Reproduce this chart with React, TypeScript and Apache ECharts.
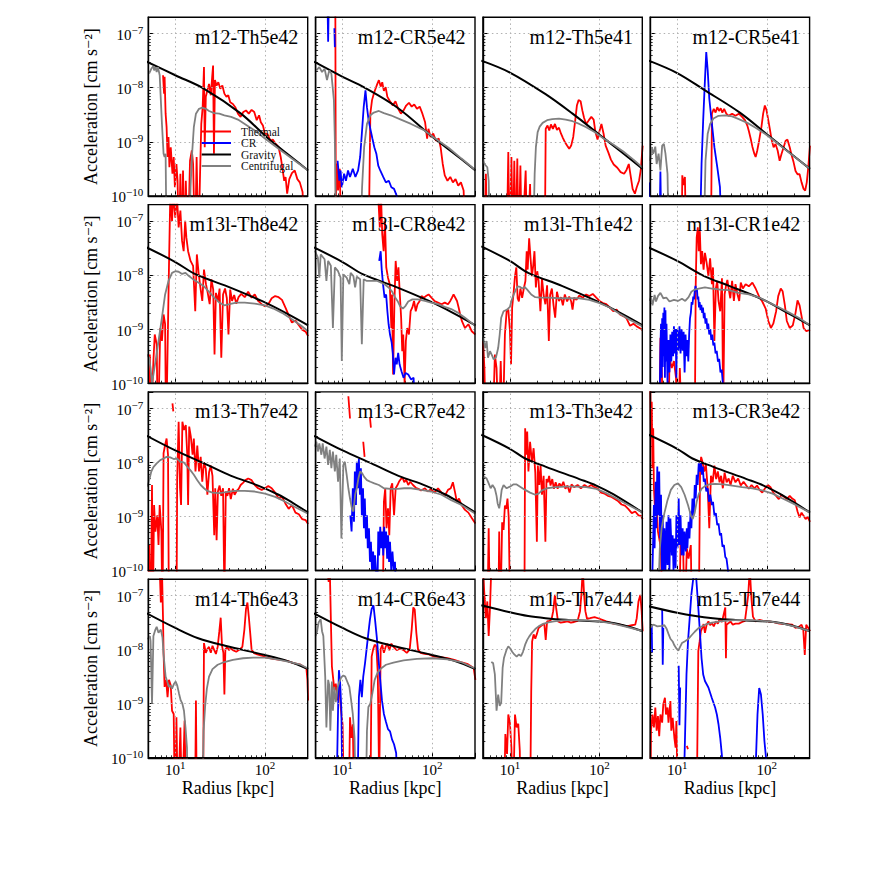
import { useEffect, useRef } from 'react';
import * as echarts from 'echarts';

// Each curve: [radius in kpc, log10(acceleration / cm s^-2)]; null = gap in the curve.
type P = [number, number] | null;
const N = null;

const titles = ['m12-Th5e42', 'm12-CR5e42', 'm12-Th5e41', 'm12-CR5e41', 'm13l-Th8e42', 'm13l-CR8e42', 'm13l-Th1e42', 'm13l-CR1e42', 'm13-Th7e42', 'm13-CR7e42', 'm13-Th3e42', 'm13-CR3e42', 'm14-Th6e43', 'm14-CR6e43', 'm15-Th7e44', 'm15-Th7e44'];
const seriesNames = ['Thermal', 'CR', 'Gravity', 'Centrifugal'];
const seriesColors = ['#ff0000', '#0000ff', '#000000', '#808080'];
const xRange = [5, 300];
const yRange = [1e-10, 2e-7];
const xGridValues = [10, 100];
const yGridValues = [1e-9, 1e-8, 1e-7];

// ---------- Panel 1: m12-Th5e42 ----------
const th1: P[] = [[7.3,-7.77],[7.5,-8.11],[7.6,-7.8],[7.8,-8.48],[8.0,-8.73],[8.2,-9.28],[8.4,-8.91],[8.6,-9.47],[8.9,-9.1],[9.3,-9.59],[9.6,-9.28],[9.9,-9.84],[10.3,-9.41],[10.6,-9.72],[11,-11],[11.4,-9.59],[11.8,-11],[12.2,-9.53],[12.6,-11],[13.1,-9.72],[13.8,-11],[14.6,-9.35],[15.3,-9.16],[15.8,-9.41],[16.6,-11],[17.3,-9.28],[18.1,-11],[18.9,-9.59],[19.5,-8.67],[20.2,-8.36],[20.9,-7.62],[21.3,-9.1],[21.9,-8.17],[22.8,-8.05],[23.8,-7.93],[24.9,-8.14],[25.8,-7.8],[26.4,-7.59],[27,-9.22],[27.7,-7.86],[28.9,-7.96],[30.2,-7.9],[31.8,-8.02],[33.5,-7.96],[35.3,-8.11],[37.2,-8.17],[39,-8.14],[41,-8.27],[43.9,-8.3],[46.7,-8.36],[50,-8.48],[53.5,-8.54],[57.4,-8.45],[61.5,-8.42],[66,-8.48],[71,-8.41],[76,-8.45],[81,-8.6],[86,-8.51],[90,-8.64],[95,-8.7],[100,-8.85],[107,-8.86],[115,-8.98],[123,-8.96],[132,-9.04],[142,-9.1],[150,-9.28],[158,-9.53],[164,-9.72],[170,-9.65],[177,-9.96],[187,-9.69],[200,-9.58],[215,-9.53],[230,-9.69],[245,-9.75],[263,-9.93],[280,-11]];
const cr1: P[] = [];
const gr1: P[] = [[4.8,-7.52],[10,-7.77],[21,-8.02],[54,-8.48],[109,-8.94],[200,-9.29],[303,-9.53]];
const ce1: P[] = [[5.1,-7.74],[5.4,-7.65],[5.7,-7.6],[5.8,-7.68],[6.0,-7.62],[6.2,-7.71],[6.4,-7.62],[6.7,-7.77],[6.9,-8.23],[7.1,-8.67],[7.4,-9.22],[7.6,-9.28],[7.8,-9.22],[8.0,-11],[14.2,-11],[14.8,-9.84],[15.4,-9.22],[16.1,-8.73],[17,-8.48],[18.4,-8.39],[20,-8.37],[21.9,-8.39],[23.8,-8.43],[27.2,-8.47],[31,-8.48],[35.3,-8.51],[42,-8.54],[50,-8.59],[59.5,-8.67],[77,-8.79],[100,-8.94],[142,-9.13],[200,-9.31],[303,-9.53]];

// ---------- Panel 2: m12-CR5e42 ----------
const th2: P[] = [[8.3,-6.5],[8.4,-10.2],[8.6,-9.4],[8.9,-9.9],[9.3,-9.5],[9.7,-11],N,[19.5,-11],[20.4,-8.48],[21.3,-8.23],[22.3,-8.11],[23.3,-8.02],[24.4,-7.93],[25.4,-7.86],[26.6,-7.98],[27.7,-7.9],[28.9,-8.06],[30.2,-7.99],[31.6,-8.17],[33.8,-8.25],[36.3,-8.33],[38.9,-8.25],[41.7,-8.39],[44.7,-8.48],[47.9,-8.42],[51.2,-8.33],[55,-8.28],[59,-8.35],[63,-8.31],[67.6,-8.39],[72.5,-8.35],[77.7,-8.48],[83.3,-8.64],[87.7,-8.94],[90.7,-8.76],[95.6,-8.91],[102.6,-8.85],[110,-8.98],[118,-8.94],[124,-9.1],[131,-9.41],[138,-9.62],[148,-9.72],[159,-9.65],[170,-9.75],[182,-9.69],[195,-9.81],[209,-9.75],[224,-9.9],[236,-11]];
const cr2: P[] = [[6.8,-6.5],[6.9,-7.15],[7.0,-6.5],N,[8.1,-6.9],[8.2,-7.25],N,[8.8,-9.35],[9.2,-9.72],[9.5,-9.53],[9.8,-9.84],[10.4,-9.59],[10.9,-9.72],[11.5,-9.53],[12.1,-9.65],[13,-9.5],[13.9,-9.65],[14.9,-9.53],[15.7,-9.28],[16.4,-8.85],[17.2,-8.36],[18,-8.05],[18.7,-8.36],[19.5,-8.6],[20.4,-8.76],[21.5,-8.94],[22.6,-9.1],[23.8,-9.22],[25,-9.44],[26.3,-9.53],[28.4,-9.65],[30.4,-9.75],[32.8,-9.72],[35,-9.84],[37.5,-9.87],[40.2,-10],[42.3,-11]];
const gr2: P[] = [[4.8,-7.52],[10,-7.8],[17.2,-7.99],[41,-8.37],[106,-8.94],[200,-9.29],[303,-9.53]];
const ce2: P[] = [[5.1,-7.68],[5.5,-7.62],[5.9,-7.71],[6.3,-7.65],[6.7,-7.86],[7.1,-7.68],[7.5,-7.74],[8.0,-8.23],[8.2,-8.98],[8.5,-11],[15.7,-11],[16.5,-9.84],[17.4,-9.1],[18.7,-8.67],[20.4,-8.51],[22.3,-8.46],[25.4,-8.43],[28.9,-8.47],[34.4,-8.51],[44.7,-8.59],[58,-8.67],[82,-8.79],[106,-8.93],[152,-9.11],[212,-9.31],[303,-9.52]];

// ---------- Panel 3: m12-Th5e41 ----------
const th3: P[] = [[5.2,-11],[5.4,-9.59],[5.6,-11],N,[9.2,-11],[9.6,-9.19],[9.9,-11],[10.4,-9.28],[10.8,-11],[11.2,-9.35],[11.6,-11],[12.1,-9.31],[12.5,-11],[13.1,-9.44],[13.6,-11],[15,-9.53],[15.6,-11],[16.8,-9.78],[17.4,-11],N,[24.5,-11],[25.1,-8.76],[26.3,-8.7],[27.5,-8.79],[28.7,-8.68],[30.2,-8.76],[31.8,-8.67],[33.5,-8.78],[35.3,-8.74],[37.2,-8.85],[39.1,-8.93],[41.2,-9.01],[43.4,-9.07],[45.9,-9.13],[48.3,-9.07],[50.9,-8.91],[53.6,-8.6],[55.9,-8.33],[58.4,-8.23],[61.5,-8.25],[64.3,-8.42],[67.3,-8.56],[71,-8.67],[76,-8.6],[81,-8.54],[86,-8.59],[90,-8.82],[95,-8.96],[100,-8.8],[105,-8.67],[111,-8.85],[117,-9.07],[125,-9.19],[134,-9.33],[144,-9.42],[158,-9.48],[172,-9.56],[188,-9.59],[200,-9.52],[212,-9.41],[222,-9.62],[234,-9.87],[248,-9.96],[260,-9.84],[276,-9.72],[288,-9.53],[298,-9.22],[303,-9.07]];
const cr3: P[] = [];
const gr3: P[] = [[4.8,-7.5],[10,-7.72],[25,-8.12],[50,-8.48],[100,-8.87],[170,-9.17],[303,-9.5]];
const ce3: P[] = [[4.85,-9.28],[5.2,-9.41],[5.6,-9.47],[5.8,-9.72],[6.0,-11],[18.1,-11],[18.9,-9.59],[19.5,-9.1],[20.4,-8.82],[21.5,-8.72],[23.2,-8.65],[26,-8.6],[29.7,-8.58],[35.3,-8.57],[42,-8.59],[50,-8.62],[59.5,-8.67],[71,-8.73],[88,-8.82],[109,-8.93],[142,-9.05],[184,-9.18],[239,-9.33],[303,-9.48]];

// ---------- Panel 4: m12-CR5e41 ----------
const th4: P[] = [[11.2,-11],[11.4,-9.62],[11.8,-9.8],[12.2,-9.65],[12.6,-11],N,[23.8,-11],[24.4,-8.48],[25.6,-8.39],[26.8,-8.46],[28,-8.36],[29.3,-8.43],[30.6,-8.38],[31.9,-8.46],[33.4,-8.39],[35.3,-8.48],[37.5,-8.52],[41,-8.48],[44.7,-8.52],[48.7,-8.48],[53,-8.54],[57,-8.6],[60.6,-8.7],[63,-8.8],[66,-8.94],[69,-9.09],[72.5,-9.22],[75,-9.28],[78,-9.17],[82,-8.98],[87,-8.73],[91,-8.48],[95,-8.33],[99,-8.41],[103.6,-8.59],[108,-8.76],[113,-8.96],[119,-9.1],[125,-9.04],[132,-9.16],[139,-9.35],[146,-9.22],[154,-9.1],[162,-8.98],[170,-8.96],[180,-9.1],[189,-9.25],[199,-9.38],[209,-9.54],[220,-9.6],[232,-9.6],[244,-9.75],[257,-9.87],[268,-9.9],[279,-9.75],[290,-9.47],[303,-9.07]];
const cr4: P[] = [[4.9,-9.75],[5.1,-11],N,[6.3,-11],[6.5,-9.55],[6.7,-11],N,[17.8,-11],[18.7,-9.41],[19.5,-8.6],[20.4,-7.86],[21.1,-7.34],[21.9,-7.68],[22.8,-8.2],[24.4,-8.67],[26,-9.1],[28,-9.47],[30,-9.84],[31.6,-11]];
const gr4: P[] = [[4.8,-7.5],[10,-7.73],[20,-8.04],[50,-8.46],[100,-8.86],[170,-9.17],[303,-9.5]];
const ce4: P[] = [[5.0,-9.35],[5.2,-9.1],[5.4,-9.22],[5.7,-9.09],[5.9,-9.41],[6.2,-9.22],[6.5,-9.53],[6.8,-9.07],[7.1,-9.04],[7.4,-9.22],[7.8,-9.59],[8.1,-11],[19.7,-11],[20.7,-9.35],[21.9,-8.85],[23.3,-8.67],[25.4,-8.57],[28.9,-8.52],[34.4,-8.51],[41,-8.53],[48.7,-8.58],[60.6,-8.65],[75,-8.74],[97,-8.86],[127,-9.01],[180,-9.21],[232,-9.35],[303,-9.5]];

// ---------- Panel 5: m13l-Th8e42 ----------
const th5: P[] = [[5.0,-11],[5.2,-9.47],[5.3,-11],[5.7,-9.59],[5.9,-9.1],[6.2,-9.28],[6.4,-11],[6.8,-8.98],[7.1,-9.22],[7.4,-8.73],[7.7,-8.91],[7.9,-11],[8.5,-7.86],[8.8,-6.5],[9.2,-7],[9.5,-6.5],[10,-6.94],[10.4,-6.5],[10.9,-7.12],[11.4,-6.81],[11.9,-7.37],[12.4,-7.56],[12.9,-7],[13.3,-7.31],[13.9,-7.56],[14.8,-7.74],[15.8,-7.83],[16.7,-8.67],[17.4,-7.62],[18.2,-7.96],[19.2,-8.27],[20,-8.48],[20.9,-7.9],[22,-8.17],[23,-8.33],[24.2,-8.54],[25.3,-8.08],[26.5,-8.27],[27.4,-9.47],[28.4,-8.33],[29.9,-8.48],[31.2,-8.25],[32.6,-9.53],[34.1,-8.36],[35.9,-8.25],[37.6,-8.43],[39.2,-9.1],[41,-8.27],[43,-8.48],[45.4,-8.37],[47.9,-8.53],[50.8,-8.41],[54.4,-8.35],[59.5,-8.41],[65,-8.31],[71,-8.42],[77,-8.36],[84,-8.48],[92,-8.54],[100,-8.58],[109,-8.54],[119,-8.43],[130,-8.39],[142,-8.41],[155,-8.46],[169,-8.6],[184,-8.74],[200,-8.88],[219,-8.84],[239,-8.93],[260,-9.01],[285,-9.05],[303,-9.13]];
const cr5: P[] = [];
const gr5: P[] = [[4.8,-7.49],[10,-7.76],[17,-7.99],[38,-8.21],[92,-8.48],[170,-8.7],[303,-8.93]];
const ce5: P[] = [[4.85,-9.47],[5.1,-9.53],[5.3,-9.72],[5.5,-10],[5.7,-9.84],[6.1,-9.53],[6.5,-9.22],[7.1,-8.79],[7.7,-8.36],[8.4,-8.11],[9.2,-7.96],[10,-7.93],[10.9,-7.94],[11.9,-7.98],[13,-7.96],[14.2,-8.02],[16.1,-8.09],[18.4,-8.15],[20.9,-8.21],[23.8,-8.31],[27.2,-8.42],[31,-8.51],[35.3,-8.56],[40.2,-8.54],[47.9,-8.51],[59.5,-8.51],[77,-8.53],[100,-8.56],[124,-8.62],[155,-8.7],[200,-8.82],[250,-8.93],[303,-9.04]];

// ---------- Panel 6: m13l-CR8e42 ----------
const th6: P[] = [[24.9,-6.5],[26,-7.12],[26.8,-6.5],[27.7,-7.25],[28.7,-7.56],[29.7,-7.0],[30.7,-7.86],[32.1,-8.05],[33.6,-8.17],[35,-8.98],[35.6,-8.36],[36.6,-9.84],[37.9,-8.48],[39.1,-7.74],[40.6,-8.11],[42,-7.86],[43.5,-8.36],[45,-8.79],[46.3,-9.41],[47.5,-9.1],[49.2,-10.0],[50.8,-9.22],[52.6,-8.98],[55,-9.1],[57.4,-8.67],[60,-8.6],[62.7,-8.48],[65.5,-8.67],[68.5,-8.54],[72.5,-8.48],[76,-8.39],[80.5,-8.42],[85,-8.39],[91,-8.36],[98,-8.42],[106,-8.48],[116,-8.51],[127,-8.54],[138,-8.51],[150,-8.54],[159,-8.48],[166,-8.42],[173,-8.36],[181,-8.42],[189,-8.48],[197,-8.6],[205,-8.73],[214,-8.85],[232,-8.98],[253,-8.91],[276,-9.04],[303,-9.1]];
const cr6: P[] = [[25.6,-7.74],[26.6,-7.56],[27.4,-7.93],[28.4,-8.2],[29.4,-8.42],[30.6,-8.36],[31.6,-8.67],[32.6,-8.91],[33.8,-9.1],[35.3,-9.25],[36.3,-9.44],[37.5,-9.84],[38.9,-9.53],[40.2,-9.65],[41.7,-9.44],[43.2,-9.65],[45.4,-9.78],[47.9,-9.9],[50.4,-9.81],[54,-9.84],[58,-9.93],[62,-9.9],[65.5,-11]];
const gr6: P[] = [[4.8,-7.49],[10,-7.76],[17,-7.99],[38,-8.21],[92,-8.48],[170,-8.7],[303,-8.93]];
const ce6: P[] = [[4.9,-7.55],[5.3,-7.68],[5.5,-8.05],[5.7,-7.62],[6.3,-7.71],[6.6,-8.11],[6.9,-7.74],[7.4,-7.83],[7.8,-8.98],[8.2,-7.86],[8.9,-7.93],[9.5,-8.05],[9.8,-9.59],[10.2,-7.99],[11.1,-8.05],[11.9,-8.17],[12.3,-7.96],[13.2,-8.02],[13.8,-8.23],[14.4,-8.03],[15.7,-8.08],[16.4,-9.28],[17.2,-8.08],[18.7,-8.11],[21.3,-8.11],[24.4,-8.11],[26.9,-8.14],[29.9,-8.18],[32.6,-8.23],[35.5,-8.3],[38.1,-8.4],[41,-8.48],[43.9,-8.58],[47.1,-8.62],[50.4,-8.57],[54,-8.49],[60,-8.45],[69,-8.45],[83,-8.48],[97,-8.51],[116,-8.54],[138,-8.59],[163,-8.63],[195,-8.7],[232,-8.79],[303,-8.94]];

// ---------- Panel 7: m13l-Th1e42 ----------
const th7: P[] = [[4.85,-11],[5.0,-9.22],[5.2,-9.72],[5.4,-11],N,[6.4,-11],[6.8,-9.47],[7.1,-9.72],[7.5,-11],[7.9,-9.59],[8.3,-11],[8.8,-9.1],[9.2,-8.67],[9.6,-8.64],[10,-9.01],[10.3,-9.65],[10.6,-8.6],[11,-8.33],[11.4,-8.02],[11.8,-7.86],[12.2,-8.43],[12.6,-8.49],[13.1,-8.25],[13.7,-8.42],[14.3,-8.25],[14.9,-8.11],[15.4,-7.56],[15.8,-7.9],[16.4,-7.32],[17,-7.69],[17.6,-8.02],[18.2,-7.83],[18.8,-7.56],[19.5,-8.23],[20.2,-7.93],[20.9,-8.11],[21.9,-8.67],[22.8,-8.06],[23.8,-8.37],[24.9,-8.54],[26,-8.19],[27.2,-9.22],[28.1,-8.37],[29.4,-8.25],[30.7,-8.56],[32,-8.79],[33.5,-8.31],[35.3,-8.48],[37.2,-8.41],[39,-8.56],[41,-8.36],[43.5,-8.49],[45.9,-8.4],[48.3,-8.49],[50,-8.64],[52,-8.42],[55.3,-8.46],[59.5,-8.38],[65,-8.42],[71,-8.36],[77,-8.39],[84,-8.35],[92,-8.42],[100,-8.48],[109,-8.52],[119,-8.54],[130,-8.6],[142,-8.67],[155,-8.64],[169,-8.73],[184,-8.76],[200,-8.8],[219,-8.94],[239,-8.9],[260,-8.95],[285,-8.99],[303,-9.02]];
const cr7: P[] = [];
const gr7: P[] = [[4.8,-7.47],[10,-7.74],[16,-7.96],[38,-8.2],[92,-8.48],[170,-8.7],[303,-8.93]];
const ce7: P[] = [[4.85,-9.22],[5.0,-9.16],[5.3,-9.35],[5.5,-9.22],[5.7,-9.53],[6.0,-9.41],[6.3,-9.48],[6.6,-9.56],[7.0,-9.52],[7.4,-9.35],[7.7,-9.1],[8.0,-8.79],[8.5,-8.67],[9.3,-8.64],[10,-8.59],[10.4,-8.48],[10.9,-8.38],[11.6,-8.28],[12.2,-8.21],[13,-8.22],[13.8,-8.25],[14.6,-8.22],[15.6,-8.27],[17.3,-8.36],[19.2,-8.41],[21.9,-8.42],[27.2,-8.42],[35.3,-8.43],[45.9,-8.43],[59.5,-8.43],[77,-8.46],[100,-8.52],[130,-8.6],[169,-8.72],[219,-8.83],[303,-8.95]];

// ---------- Panel 8: m13l-CR1e42 ----------
const th8: P[] = [[6.3,-11],[6.5,-9.16],[6.7,-9.59],[7.0,-11],N,[8.0,-11],[8.2,-9.53],[8.7,-9.72],[9.2,-9.59],[9.7,-9.9],[10.2,-11],[10.7,-9.72],[11.3,-11],N,[15.7,-11],[16.1,-8.17],[16.5,-7.31],[17,-7.12],[17.4,-7.56],[17.9,-7.19],[18.4,-7.8],[19,-7.56],[19.7,-7.9],[20.4,-7.59],[21.3,-7.77],[22.3,-8.02],[23.3,-7.69],[24.4,-8.17],[25.1,-7.86],[26,-9.22],[27,-8.25],[28,-8.11],[28.9,-8.48],[30.2,-8.67],[31.6,-8.06],[32.6,-10.5],[33.8,-8.36],[35.3,-8.17],[36.3,-8.09],[37.5,-8.25],[39.1,-8.43],[41,-8.11],[42.9,-8.48],[44.7,-8.17],[47.1,-8.36],[49.2,-8.48],[51.2,-8.14],[54,-8.25],[58,-8.17],[63,-8.21],[69,-8.14],[75,-8.25],[83,-8.42],[89,-8.49],[97,-8.62],[104,-8.85],[111,-8.98],[118,-8.9],[127,-8.67],[134,-8.39],[143,-8.25],[150,-8.3],[159,-8.56],[167,-8.85],[180,-8.98],[195,-8.93],[209,-8.7],[220,-8.47],[232,-8.56],[244,-8.76],[257,-8.98],[276,-9.04],[303,-9.01]];
const cr8: P[] = [[6.3,-11],[6.5,-9.35],[6.6,-8.9],[6.7,-9.9],[6.8,-8.8],[6.9,-9.7],[7.0,-8.7],[7.1,-9.5],[7.2,-8.6],[7.3,-9.9],[7.4,-8.65],[7.5,-9.6],[7.6,-8.9],[7.8,-10],[8.0,-9.2],[8.2,-9.8],[8.4,-9.1],[8.6,-9.6],[8.8,-9.05],[9.0,-9.5],[9.2,-8.95],[9.4,-9.45],[9.6,-9.0],[9.8,-9.9],[10.0,-9.0],[10.3,-9.4],[10.6,-8.95],[10.9,-9.45],[11.2,-9.0],[11.5,-9.4],[11.8,-9.05],[12.1,-9.8],[12.4,-9.1],[12.7,-9.5],[13.0,-9.2],[13.3,-9.6],[13.6,-9.1],[13.9,-8.8],[14.2,-8.7],[14.5,-8.5],[14.8,-8.55],[15.1,-8.4],[15.4,-8.45],[15.7,-8.3],[16.0,-8.2],[16.3,-8.3],[16.6,-8.25],[16.9,-8.45],[17.2,-8.4],[17.5,-8.6],[17.8,-8.5],[18.2,-8.65],[18.6,-8.55],[19.0,-8.7],[19.4,-8.6],[19.8,-8.8],[20.2,-8.7],[20.7,-8.9],[21.2,-8.8],[21.7,-9.0],[22.2,-8.9],[22.8,-9.1],[23.4,-9.0],[24.0,-9.2],[24.6,-9.1],[25.3,-9.3],[26.0,-9.25],[26.8,-9.45],[27.6,-9.4],[28.5,-9.6],[29.4,-9.55],[30.4,-9.8],[31.4,-9.75],[32.3,-10],[33,-11]];
const gr8: P[] = [[4.8,-7.49],[10,-7.74],[20,-8.02],[38,-8.2],[92,-8.46],[170,-8.7],[303,-8.93]];
const ce8: P[] = [[4.9,-8.48],[5.1,-8.41],[5.3,-8.56],[5.6,-8.37],[5.8,-8.49],[6.1,-8.39],[6.5,-8.33],[7.0,-8.43],[7.6,-8.42],[8.2,-8.49],[9.2,-8.46],[10.2,-8.48],[11.3,-8.44],[12.3,-8.48],[13.4,-8.41],[14.4,-8.31],[15.7,-8.27],[17.4,-8.25],[20.4,-8.23],[24.4,-8.25],[30.2,-8.27],[37.5,-8.28],[48.7,-8.33],[63,-8.36],[83,-8.42],[106,-8.51],[138,-8.6],[180,-8.7],[232,-8.8],[303,-8.93]];

// ---------- Panel 9: m13-Th7e42 ----------
const th9: P[] = [[4.95,-11],[5.1,-9.53],[5.3,-11],[5.5,-8.42],[5.6,-11],[5.8,-8.79],[6.0,-9.28],[6.3,-8.98],[6.5,-9.53],[6.7,-8.79],[7.0,-9.28],[7.2,-11],[7.4,-7.83],[7.7,-7.68],[8.0,-7.56],[8.3,-7.86],[8.5,-11],N,[9.3,-6.91],[9.5,-7.06],N,[10.3,-11],[10.5,-8.3],[10.9,-7.25],[11.3,-8.48],[11.6,-8.79],[12,-7.25],[12.5,-7.4],[13.1,-7.31],[13.6,-7.86],[13.9,-8.79],[14.3,-7.34],[14.9,-7.52],[15.6,-7.86],[16.1,-7.56],[16.8,-8.17],[17.6,-7.69],[18.4,-8.17],[19.2,-7.9],[20,-8.36],[20.9,-8],[21.9,-8.12],[22.8,-8.6],[23.8,-8.19],[24.9,-8.06],[26,-8.25],[27.2,-9.35],[27.9,-8.48],[28.9,-9.44],[29.9,-8.54],[31.2,-8.43],[32.6,-8.62],[34.1,-8.48],[35.3,-10.5],[36.6,-8.54],[38.1,-8.62],[39.8,-8.48],[41.6,-8.68],[43.9,-8.49],[45.9,-8.6],[48.3,-8.53],[50.9,-8.49],[53.6,-8.42],[56.9,-8.38],[60.6,-8.33],[65,-8.3],[71,-8.33],[77,-8.42],[84,-8.48],[92,-8.51],[100,-8.48],[109,-8.44],[119,-8.48],[130,-8.56],[142,-8.67],[155,-8.64],[169,-8.76],[184,-8.86],[200,-8.79],[219,-8.93],[239,-8.96],[260,-9.05],[285,-9.07],[303,-9.14]];
const cr9: P[] = [];
const gr9: P[] = [[4.8,-7.51],[10,-7.78],[21,-8.02],[42,-8.25],[84,-8.43],[142,-8.6],[200,-8.74],[303,-8.93]];
const ce9: P[] = [[4.8,-8.45],[5.0,-8.39],[5.2,-8.28],[5.4,-8.17],[5.7,-8.09],[6.2,-8.02],[6.8,-7.96],[7.4,-7.93],[8.0,-7.9],[8.8,-7.91],[9.6,-7.94],[10.4,-7.93],[11.4,-7.99],[12.4,-8.0],[13.6,-8.08],[14.8,-8.15],[16.1,-8.23],[17.6,-8.33],[19.2,-8.42],[20.9,-8.48],[22.8,-8.53],[26,-8.56],[31,-8.57],[36.9,-8.55],[45.9,-8.53],[59.5,-8.53],[77,-8.54],[100,-8.58],[130,-8.64],[169,-8.73],[219,-8.83],[303,-8.95]];

// ---------- Panel 10: m13-CR7e42 ----------
const th10: P[] = [[11.6,-6.78],[12.1,-7.19],N,[17,-7.62],[17.6,-7.9],N,[20.2,-7.17],[20.7,-7.36],N,[28,-11],[28.9,-8.73],[29.9,-8.48],[30.9,-9.22],[32.1,-8.85],[33.2,-9.35],[34.4,-8.48],[35.8,-8.39],[37.5,-8.98],[39.1,-8.48],[41,-8.42],[42.9,-8.35],[44.7,-8.31],[46.7,-8.28],[48.7,-8.37],[51.2,-8.32],[54,-8.42],[56.9,-8.36],[61,-8.42],[65.5,-8.47],[70,-8.49],[75,-8.52],[83,-8.48],[89,-8.54],[97,-8.5],[106,-8.56],[116,-8.48],[127,-8.56],[138,-8.62],[150,-8.51],[161,-8.48],[170,-8.37],[180,-8.56],[188,-8.73],[199,-8.67],[212,-8.79],[232,-8.88],[253,-8.93],[276,-9.03],[303,-9.13]];
const cr10: P[] = [[12.2,-8.98],[12.6,-9.28],[13.0,-8.48],[13.4,-9.1],[13.7,-8.17],[14.1,-8.79],[14.4,-7.99],[14.8,-8.48],[15.2,-7.93],[15.6,-8.6],[16.0,-8.11],[16.4,-8.98],[16.9,-8.48],[17.3,-9.22],[17.7,-8.67],[18.2,-9.41],[18.7,-8.98],[19.1,-9.59],[19.7,-9.22],[20.2,-9.84],[20.7,-9.47],[21.3,-10],[21.9,-9.65],[22.4,-10],[23,-9.72],[23.6,-10],[24.2,-11],[25,-9.28],[25.6,-9.72],[26.3,-9.19],[27,-9.59],[27.7,-9.28],[28.4,-9.72],[29.1,-9.19],[29.9,-9.59],[30.6,-9.28],[31.4,-9.78],[32.2,-9.35],[33,-9.84],[33.8,-9.47],[34.9,-10],[36,-9.65],[37.2,-10],[38.4,-9.84],[39.8,-10.5],[41,-11]];
const gr10: P[] = [[4.8,-7.51],[10,-7.78],[21,-8.02],[42,-8.25],[84,-8.43],[142,-8.6],[200,-8.74],[303,-8.93]];
const ce10: P[] = [[4.9,-7.71],[5.1,-7.62],[5.3,-7.8],[5.5,-7.65],[5.8,-7.86],[6.0,-7.65],[6.3,-7.93],[6.6,-7.71],[6.9,-8.05],[7.2,-7.77],[7.5,-8.11],[7.8,-7.8],[8.2,-8.17],[8.5,-7.86],[8.9,-8.36],[9.3,-7.93],[9.7,-9.41],[10.2,-8.05],[10.6,-7.99],[11.1,-8.23],[11.6,-8.48],[12.1,-8.67],[12.7,-8.85],[13.2,-8.91],[13.8,-8.6],[14.4,-8.48],[15,-8.3],[15.7,-8.17],[16.5,-8.2],[17.4,-8.27],[18.7,-8.33],[20.4,-8.36],[22.6,-8.39],[25.4,-8.42],[28.9,-8.48],[34.4,-8.49],[41,-8.49],[48.7,-8.48],[58,-8.48],[75,-8.51],[97,-8.54],[127,-8.6],[163,-8.7],[212,-8.79],[303,-8.95]];

// ---------- Panel 11: m13-Th3e42 ----------
const th11: P[] = [[5.6,-11],[5.8,-9.22],[6.0,-11],N,[7.4,-11],[7.6,-9.28],[7.8,-11],[8.2,-9.11],[8.5,-9.25],[8.8,-8.8],[9.1,-8.86],[9.4,-8.67],[9.7,-9.01],[10.1,-11],N,[14.5,-11],[14.8,-7.37],[15.2,-7.86],[15.6,-7.43],[16.1,-8.17],[16.8,-7.62],[17.6,-8],[18.4,-7.74],[19.2,-8.19],[20,-9.47],[20.5,-8.06],[21.3,-8.42],[22,-8.06],[22.8,-8.6],[23.8,-8.25],[24.9,-9.47],[25.6,-8.31],[26.5,-8.37],[27.4,-8.25],[28.4,-8.43],[29.7,-8.31],[31,-8.49],[32.4,-8.37],[34.1,-8.49],[35.7,-8.39],[37.6,-8.45],[39.5,-8.36],[41.6,-8.49],[43.9,-8.43],[46.3,-8.56],[48.7,-8.41],[52,-8.46],[56.9,-8.42],[62,-8.48],[68,-8.42],[74,-8.46],[80.5,-8.42],[88,-8.46],[96,-8.49],[104,-8.56],[114,-8.58],[124,-8.62],[136,-8.64],[148,-8.68],[162,-8.72],[176,-8.78],[192,-8.8],[209,-8.86],[229,-8.94],[250,-8.91],[272,-8.98],[290,-8.99],[303,-9.05]];
const cr11: P[] = [];
const gr11: P[] = [[4.8,-7.49],[10,-7.75],[14.8,-7.93],[24.9,-8.08],[59.5,-8.31],[92,-8.43],[142,-8.59],[303,-8.93]];
const ce11: P[] = [[4.85,-8.3],[5.2,-8.27],[5.5,-8.3],[5.8,-8.39],[6.1,-8.48],[6.4,-8.42],[6.8,-8.49],[7.1,-8.62],[7.3,-8.76],[7.6,-8.85],[7.8,-8.73],[8.1,-8.51],[8.5,-8.42],[9.2,-8.48],[10,-8.45],[10.9,-8.41],[11.9,-8.41],[13,-8.45],[14.8,-8.51],[16.8,-8.56],[19.2,-8.6],[20.9,-8.58],[22.8,-8.52],[26,-8.48],[32.4,-8.46],[42,-8.45],[54.5,-8.45],[71,-8.46],[92,-8.49],[119,-8.57],[155,-8.67],[200,-8.77],[303,-8.93]];

// ---------- Panel 12: m13-CR3e42 ----------
const th12: P[] = [[5.0,-6.5],[5.1,-7.56],[5.2,-6.88],[5.3,-8.11],[5.4,-7.37],[5.5,-8.48],[5.7,-8.98],[5.9,-8.79],[6.1,-9.28],[6.4,-9.47],[6.6,-9.72],[6.9,-11],N,[10.5,-11],[10.9,-9.53],[11.3,-9.35],[11.7,-9.72],[12.1,-11],[12.8,-9.59],[13.4,-9.78],[14.2,-9.53],[14.6,-11],N,[17.4,-11],[18,-8.11],[18.5,-7.9],[19.2,-8],[20,-8.17],[20.9,-8.04],[21.9,-8.48],[22.8,-9.22],[23.8,-8.25],[24.9,-8.37],[26,-8.06],[27.2,-8.31],[28.4,-8.17],[29.7,-8.37],[30.9,-8.25],[32.3,-8.48],[33.8,-8.19],[35.6,-8.37],[37.5,-8.3],[39.4,-8.42],[41.7,-8.25],[44.7,-8.37],[47.9,-8.3],[51.2,-8.43],[55,-8.36],[59,-8.43],[63,-8.49],[67.6,-8.42],[72.5,-8.48],[77.7,-8.43],[83,-8.51],[89,-8.56],[95.6,-8.48],[102.6,-8.42],[110,-8.46],[118,-8.56],[127,-8.62],[136,-8.68],[146,-8.6],[156,-8.64],[167,-8.68],[180,-8.62],[192,-8.67],[205,-8.7],[220,-8.91],[232,-9.02],[244,-8.93],[257,-8.99],[271,-9.05],[285,-9.01],[303,-9.1]];
const cr12: P[] = [[5.3,-10],[5.4,-9.41],[5.5,-8.79],[5.6,-9.59],[5.75,-8.36],[5.85,-9.22],[6.0,-8.08],[6.1,-8.98],[6.3,-8.17],[6.45,-9.41],[6.6,-8.6],[6.75,-10],[6.9,-8.98],[7.05,-10],[7.2,-9.22],[7.4,-10],[7.6,-9.1],[7.8,-9.9],[8.0,-8.98],[8.2,-10],[8.4,-9.04],[8.7,-9.72],[8.9,-9.35],[9.1,-10],[9.3,-9.41],[9.6,-9.96],[9.8,-8.98],[10.1,-9.59],[10.4,-8.67],[10.6,-9.53],[10.9,-8.98],[11.2,-9.72],[11.5,-9.22],[11.8,-9.72],[12.1,-9.28],[12.5,-9.65],[12.8,-9.22],[13.0,-9.59],[13.4,-9.1],[13.7,-9.41],[14.1,-8.91],[14.4,-9.22],[14.8,-8.67],[15.3,-8.98],[15.7,-8.42],[16.1,-8.67],[16.5,-8.23],[16.9,-8.42],[17.4,-8.02],[18,-8.17],[18.4,-7.99],[18.9,-8.23],[19.3,-8.08],[19.8,-8.36],[20.4,-8.3],[21.1,-8.54],[21.9,-8.48],[22.6,-8.73],[23.4,-8.6],[24.4,-8.79],[25.1,-8.73],[26,-8.98],[27,-8.94],[28,-9.16],[28.9,-9.13],[30,-9.35],[30.9,-9.31],[32,-9.56],[33.2,-9.53],[34.4,-9.75],[35.5,-9.78],[36.9,-10],[38.1,-11]];
const gr12: P[] = [[4.8,-7.49],[10,-7.75],[14.8,-7.93],[24.9,-8.08],[59.5,-8.31],[92,-8.43],[142,-8.59],[303,-8.93]];
const ce12: P[] = [[6.0,-11],[6.4,-9.59],[6.7,-9.22],[7.2,-8.94],[7.8,-8.7],[8.5,-8.51],[9.3,-8.42],[10.2,-8.39],[11.1,-8.46],[12.1,-8.6],[13.2,-8.79],[14.2,-8.98],[14.9,-9.05],[15.7,-8.93],[16.5,-8.73],[17.4,-8.59],[18.7,-8.49],[20.4,-8.44],[22.6,-8.41],[26.6,-8.4],[32.8,-8.41],[41,-8.43],[53,-8.46],[69,-8.48],[89,-8.52],[116,-8.58],[150,-8.67],[195,-8.76],[303,-8.93]];

// ---------- Panel 13: m14-Th6e43 ----------
const th13: P[] = [[6.7,-6.5],[6.9,-7.13],[7.1,-6.5],[7.3,-7.44],[7.4,-8.06],[7.6,-8.69],[7.9,-8.56],[8.2,-8.88],[8.5,-8.56],[8.9,-8.66],[9.2,-9.13],[9.6,-9.19],[9.9,-11],[10.3,-9.25],[10.7,-11],[11.4,-9.44],[11.9,-11],[12.7,-9.31],[13.2,-11],N,[16.6,-11],[17,-8.94],[17.4,-11],N,[20.4,-11],[20.9,-7.88],[21.9,-8.06],[22.8,-7.99],[23.8,-7.95],[24.9,-8.06],[26,-7.93],[27.2,-8.01],[28.4,-8.08],[29.7,-7.95],[31,-7.66],[32.1,-7.41],[33.2,-7.93],[34.4,-8.06],[35.3,-8.83],[36.2,-8.0],[37.9,-7.95],[39.6,-8.01],[41.4,-7.98],[43.9,-8.01],[47.9,-8.04],[52,-8.0],[56,-7.95],[59,-7.63],[61.5,-7.25],[63.8,-7.13],[66,-7.38],[68.5,-7.69],[71,-8.0],[75,-8.06],[82,-8.09],[92,-8.11],[105,-8.15],[124,-8.17],[148,-8.19],[176,-8.21],[209,-8.25],[250,-8.28],[290,-8.35],[298,-8.56],[303,-8.94]];
const cr13: P[] = [];
const gr13: P[] = [[4.8,-7.33],[10,-7.6],[18,-7.79],[36,-7.93],[100,-8.1],[170,-8.2],[303,-8.36]];
const ce13: P[] = [[4.9,-7.81],[5.2,-7.75],[5.3,-7.84],[5.5,-9.0],[5.7,-7.75],[6.0,-7.63],[6.2,-7.58],[6.5,-7.69],[6.9,-7.63],[7.2,-7.78],[7.4,-8.09],[7.8,-8.5],[8.1,-8.58],[8.5,-8.69],[8.8,-8.66],[9.2,-8.72],[9.7,-8.63],[10.1,-8.59],[10.5,-8.66],[11,-8.81],[11.5,-8.94],[12,-9.0],[12.5,-9.13],[13,-9.44],[13.5,-9.81],[13.8,-11],[20,-11],[20.7,-9.5],[21.5,-9.06],[22.5,-8.72],[23.8,-8.5],[26,-8.36],[29.7,-8.28],[35.3,-8.23],[43.9,-8.19],[56.9,-8.16],[74,-8.15],[100,-8.15],[136,-8.18],[192,-8.23],[250,-8.28],[303,-8.35]];

// ---------- Panel 14: m14-CR6e43 ----------
const th14: P[] = [[6.7,-6.5],[7.0,-6.75],[7.2,-6.5],[7.4,-7.44],[7.6,-8.31],[8.1,-8.75],[8.4,-8.63],[8.8,-8.94],[9.2,-8.69],[9.6,-9.13],[10,-9.38],[10.4,-11],N,[11.7,-11],[12.1,-9.25],[12.5,-9.63],[13,-9.38],[13.5,-11],N,[20.4,-11],[21.1,-8.13],[21.9,-8.0],[22.8,-7.91],[23.8,-7.94],[24.7,-8.44],[25.6,-10.5],[26.6,-7.99],[27.7,-7.91],[28.9,-8.06],[30.2,-7.95],[31.6,-7.89],[33.2,-8.01],[35,-7.89],[36.9,-7.95],[40.2,-8.01],[43.9,-7.98],[47.9,-8.01],[52,-8.06],[56,-8.0],[59,-7.63],[61.5,-7.22],[63.8,-7.26],[66.5,-7.69],[69.5,-8.0],[74,-8.06],[82,-8.08],[92,-8.09],[105,-8.13],[124,-8.14],[148,-8.16],[176,-8.19],[209,-8.23],[250,-8.27],[290,-8.34],[303,-8.56]];
const cr14: P[] = [[8.5,-11],[8.9,-9.13],[9.1,-8.38],[9.4,-8.63],[9.7,-9.13],[10,-11],N,[14.6,-11],[15.2,-8.88],[15.8,-8.56],[16.4,-8.88],[17,-8.5],[17.8,-8.25],[18.6,-7.97],[19.4,-7.69],[20.2,-7.44],[21.1,-7.25],[22.1,-7.18],[23,-7.44],[24.1,-7.78],[25.2,-8.19],[26.3,-8.56],[27.5,-8.94],[28.9,-9.19],[30.5,-9.34],[32.1,-9.47],[33.8,-9.51],[35.6,-9.66],[37.5,-9.75],[39.6,-9.91],[41.7,-11]];
const gr14: P[] = [[4.8,-7.33],[10,-7.6],[18,-7.79],[36,-7.93],[100,-8.1],[170,-8.2],[303,-8.36]];
const ce14: P[] = [[5.0,-7.75],[5.2,-7.66],[5.4,-7.5],[5.7,-7.44],[5.9,-7.66],[6.1,-7.75],[6.4,-8.5],[6.6,-9.44],[6.9,-8.56],[7.1,-8.66],[7.3,-9.5],[7.6,-8.59],[7.8,-9.13],[8.1,-8.69],[8.4,-8.97],[8.8,-8.7],[9.2,-8.59],[9.7,-8.51],[10.2,-8.48],[10.7,-8.5],[11.2,-8.58],[11.9,-8.69],[12.4,-8.91],[13,-9.19],[13.6,-9.63],[14.1,-11],[18.1,-11],[18.7,-9.5],[19.4,-9.06],[20.4,-9.0],[21.5,-8.81],[22.8,-8.56],[24.5,-8.43],[26.8,-8.35],[30.5,-8.28],[36.9,-8.24],[47.9,-8.2],[67.6,-8.17],[100,-8.16],[148,-8.18],[209,-8.23],[303,-8.35]];

// ---------- Panel 15: m15-Th7e44 ----------
const th15: P[] = [[5.0,-6.5],[5.2,-6.99],[5.4,-7.42],[5.6,-7.11],[5.8,-7.75],[6.0,-7.23],[6.2,-6.5],N,[8.6,-11],[8.9,-9.56],[9.3,-9.93],[9.6,-9.2],[10,-9.35],[10.4,-9.81],[10.8,-11],[11.4,-9.2],[11.9,-9.44],[12.4,-9.37],[12.9,-9.87],[13.2,-11],N,[16.8,-11],[17.3,-8.77],[17.7,-7.85],[18.4,-7.72],[19.2,-7.8],[20,-7.71],[20.9,-7.6],[22,-7.57],[23.2,-7.54],[24.2,-7.52],[25.1,-7.82],[26,-7.48],[27.7,-7.47],[29.2,-7.44],[30.4,-7.29],[31.8,-6.99],[32.8,-7.23],[34.4,-7.48],[36.9,-7.5],[40.2,-7.49],[43.9,-7.48],[47.9,-7.5],[52,-7.49],[56.9,-7.47],[60.6,-7.29],[62.7,-6.99],[65,-6.5],[67.3,-6.99],[69.5,-7.29],[72.5,-7.43],[78.5,-7.42],[88,-7.4],[100,-7.43],[119,-7.48],[142,-7.52],[169,-7.54],[200,-7.57],[229,-7.55],[250,-7.54],[260,-7.42],[272,-7.11],[285,-6.99],[295,-7.29],[303,-7.66]];
const cr15: P[] = [];
const gr15: P[] = [[4.8,-7.18],[10,-7.31],[16,-7.38],[25,-7.42],[42,-7.45],[77,-7.47],[120,-7.49],[184,-7.55],[303,-7.66]];
const ce15: P[] = [[6.2,-8.23],[6.5,-8.25],[6.8,-8.46],[7.1,-9.13],[7.4,-8.83],[7.7,-9.04],[8.0,-8.98],[8.3,-8.34],[8.6,-8.15],[9.2,-8.0],[9.6,-7.94],[10.1,-7.98],[10.6,-8.04],[11.2,-8.09],[11.9,-8.13],[12.6,-8.09],[13.3,-8.12],[14,-8.04],[14.8,-7.91],[15.6,-7.82],[16.4,-7.76],[17.6,-7.69],[19.2,-7.62],[20.9,-7.57],[23.2,-7.53],[26,-7.5],[31,-7.48],[38.5,-7.46],[50,-7.45],[71,-7.46],[100,-7.48],[142,-7.52],[200,-7.58],[303,-7.66]];

// ---------- Panel 16: m15-Th7e44 ----------
const th16: P[] = [[5.0,-11],[5.1,-9.5],[5.3,-9.2],[5.5,-9.44],[5.7,-9.07],[5.9,-9.5],[6.1,-9.23],[6.3,-9.6],[6.5,-9.2],[6.8,-9.35],[7.0,-9.01],[7.3,-8.89],[7.5,-9.2],[7.8,-9.07],[8.0,-9.35],[8.4,-8.95],[8.6,-9.5],[8.9,-9.26],[9.3,-9.63],[9.6,-9.81],[9.8,-9.32],[10.2,-11],N,[12.8,-9.78],[13.2,-9.84],N,[16.5,-11],[17.2,-8.03],[17.8,-7.85],[18.4,-7.66],[19,-7.6],[19.7,-7.53],[20.4,-7.69],[21.3,-7.54],[22.3,-7.48],[23.3,-7.55],[24.4,-7.51],[25.6,-7.57],[27,-7.48],[28.4,-7.52],[29.9,-7.42],[31.6,-7.49],[32.8,-7.37],[34.4,-7.22],[35,-8.16],[35.5,-7.54],[37.5,-7.51],[39.4,-7.48],[41.7,-7.54],[44.7,-7.52],[48.7,-7.52],[53,-7.49],[57,-7.47],[59.5,-7.23],[62,-6.99],[64.5,-6.5],[67.3,-7.05],[70,-7.39],[75,-7.48],[83,-7.45],[91,-7.47],[102,-7.48],[116,-7.49],[138,-7.52],[163,-7.53],[192,-7.54],[209,-7.6],[227,-7.58],[244,-7.54],[255,-7.63],[265,-8.1],[275,-7.54],[290,-7.6],[303,-7.66]];
const cr16: P[] = [[5.2,-7.55],[5.25,-8.05],N,[6.8,-7.25],[6.9,-8.28],[7.0,-7.6],N,[10.4,-8.3],[10.6,-9.4],[10.8,-8.7],N,[11.4,-11],[12.1,-9.94],[12.7,-8.46],[13.2,-7.85],[13.8,-7.41],[14.4,-6.98],[15.1,-6.69],[15.6,-6.5],[16.2,-6.6],[16.4,-6.74],[17.2,-7.22],[18,-7.72],[18.7,-8.16],[19.5,-8.46],[20.4,-8.58],[22.3,-8.7],[24.3,-8.89],[26.5,-9.07],[27.7,-9.2],[28.9,-9.38],[30.2,-9.63],[31.6,-9.97],[32.6,-11],[74,-11],[75.7,-10],[78.7,-9.2],[82.2,-8.71],[86,-8.83],[90,-9.2],[94,-9.69],[98,-10],[100,-11]];
const gr16: P[] = [[4.8,-7.2],[10,-7.32],[16,-7.38],[25,-7.42],[42,-7.45],[77,-7.47],[120,-7.49],[184,-7.55],[303,-7.66]];
const ce16: P[] = [[5.0,-7.6],[5.3,-7.55],[5.5,-7.54],[6.0,-7.57],[6.7,-7.56],[7.2,-7.55],[7.6,-7.61],[8.0,-7.71],[8.4,-7.8],[8.9,-7.85],[9.3,-7.92],[9.8,-7.98],[10.3,-8.02],[10.7,-7.96],[11.3,-7.88],[12.1,-7.85],[13.2,-7.81],[14.4,-7.74],[15.7,-7.67],[17.4,-7.6],[20.4,-7.54],[24.4,-7.5],[30.2,-7.48],[39.1,-7.46],[53,-7.45],[75,-7.46],[106,-7.48],[150,-7.52],[212,-7.58],[303,-7.66]];

const thermal = [th1, th2, th3, th4, th5, th6, th7, th8, th9, th10, th11, th12, th13, th14, th15, th16];
const cosmicRay = [cr1, cr2, cr3, cr4, cr5, cr6, cr7, cr8, cr9, cr10, cr11, cr12, cr13, cr14, cr15, cr16];
const gravity = [gr1, gr2, gr3, gr4, gr5, gr6, gr7, gr8, gr9, gr10, gr11, gr12, gr13, gr14, gr15, gr16];
const centrifugal = [ce1, ce2, ce3, ce4, ce5, ce6, ce7, ce8, ce9, ce10, ce11, ce12, ce13, ce14, ce15, ce16];

// ---------- layout ----------
const FONT = "'Liberation Serif', 'DejaVu Serif', 'Times New Roman', serif";
const colLeft = [148.3, 315.6, 482.9, 650.2];
const rowTop = [17.3, 204.6, 391.9, 579.2];
const PW = 159.4;
const PH = 178.6;

const powLabel = (v: number) => {
  const e = Math.log10(v);
  const r = Math.round(e);
  if (Math.abs(e - r) > 1e-6) return '';
  return '{b|10}{s|' + String(r).replace('-', '\u2212') + '}';
};
const labelRich = {
  b: { fontSize: 15, fontFamily: FONT, color: '#000', lineHeight: 15, verticalAlign: 'bottom' },
  s: { fontSize: 11, fontFamily: FONT, color: '#000', verticalAlign: 'top', padding: [0, 0, 7, 0] },
};

const toData = (pts: P[]) => pts.map((p) => (p === null ? ['-', '-'] : [p[0], Math.pow(10, p[1])]));

// dotted grid lines at the decades, as two-point mark lines in data coordinates
const gridMarkLines = () => [
  ...xGridValues.map((v) => [{ coord: [v, yRange[0]] }, { coord: [v, yRange[1]] }]),
  ...yGridValues.map((v) => [{ coord: [xRange[0], v] }, { coord: [xRange[1], v] }]),
];

function buildOption() {
  const grid: any[] = [];
  const xAxis: any[] = [];
  const yAxis: any[] = [];
  const series: any[] = [];
  const graphic: any[] = [];
  const curves = [thermal, cosmicRay, gravity, centrifugal];

  for (let i = 0; i < 16; i++) {
    const row = Math.floor(i / 4);
    const col = i % 4;
    const left = colLeft[col];
    const top = rowTop[row];
    grid.push({ left, top, width: PW, height: PH, show: false, containLabel: false });
    const common = {
      type: 'log',
      logBase: 10,
      gridIndex: i,
      axisLine: { show: true, onZero: false, lineStyle: { color: '#000', width: 1.4 } },
      axisTick: { show: true, inside: true, length: 5, lineStyle: { color: '#000', width: 1 } },
      minorTick: { show: true, splitNumber: 9, length: 2.5, lineStyle: { color: '#000', width: 0.8 } },
      splitLine: { show: false },
      minorSplitLine: { show: false },
    };
    xAxis.push({
      ...common,
      min: xRange[0],
      max: xRange[1],
      axisLabel: { show: row === 3, formatter: powLabel, rich: labelRich, color: '#000', fontSize: 15, fontFamily: FONT, margin: 2, showMinLabel: false, showMaxLabel: false },
      name: row === 3 ? 'Radius [kpc]' : '',
      nameLocation: 'middle',
      nameGap: 19,
      nameTextStyle: { fontSize: 18, fontFamily: FONT, color: '#000' },
    });
    yAxis.push({
      ...common,
      min: yRange[0],
      max: yRange[1],
      axisLabel: { show: col === 0, formatter: powLabel, rich: labelRich, color: '#000', fontSize: 15, fontFamily: FONT, margin: 5, showMaxLabel: false },
      name: col === 0 ? 'Acceleration [cm s\u207b\u00b2]' : '',
      nameLocation: 'middle',
      nameRotate: 90,
      nameGap: 48,
      nameTextStyle: { fontSize: 18, fontFamily: FONT, color: '#000' },
    });
    series.push({
      type: 'line',
      name: 'grid',
      xAxisIndex: i,
      yAxisIndex: i,
      data: [],
      z: 1,
      silent: true,
      markLine: {
        silent: true,
        symbol: 'none',
        animation: false,
        label: { show: false },
        emphasis: { disabled: true },
        lineStyle: { color: '#b0b0b0', width: 1, type: [1.5, 3] },
        data: gridMarkLines(),
      },
    });
    for (let k = 0; k < 4; k++) {
      const pts = curves[k][i];
      if (!pts.length) continue;
      series.push({
        type: 'line',
        name: seriesNames[k],
        xAxisIndex: i,
        yAxisIndex: i,
        data: toData(pts),
        showSymbol: false,
        symbol: 'none',
        clip: true,
        silent: true,
        connectNulls: false,
        smooth: k === 2 ? 0.35 : false,
        z: 2 + k,
        lineStyle: { color: seriesColors[k], width: k === 2 ? 2 : 1.8 },
        itemStyle: { color: seriesColors[k] },
      });
    }
    // panel frame (spines) drawn above the data
    graphic.push({
      type: 'rect',
      z: 90,
      silent: true,
      shape: { x: left, y: top, width: PW, height: PH },
      style: { fill: 'none', stroke: '#000', lineWidth: 1.4 },
    });
    graphic.push({
      type: 'text',
      x: left + PW - 9.4,
      y: top + 19.5,
      z: 100,
      style: { text: titles[i], fill: '#000', font: `20px ${FONT}`, fontSize: 20, fontFamily: FONT, align: 'right', verticalAlign: 'middle', textAlign: 'right', textVerticalAlign: 'middle' },
    });
  }

  // legend (inside the first panel)
  const legY = [131.5, 143, 154.5, 166];
  for (let k = 0; k < 4; k++) {
    graphic.push({
      type: 'line',
      z: 100,
      shape: { x1: 201.7, y1: legY[k], x2: 231, y2: legY[k] },
      style: { stroke: seriesColors[k], lineWidth: 2 },
    });
    graphic.push({
      type: 'text',
      z: 100,
      x: 241,
      y: legY[k],
      style: { text: seriesNames[k], fill: '#111', font: `11.5px ${FONT}`, fontSize: 11.5, fontFamily: FONT, align: 'left', verticalAlign: 'middle', textAlign: 'left', textVerticalAlign: 'middle' },
    });
  }

  return {
    animation: false,
    backgroundColor: '#ffffff',
    textStyle: { fontFamily: FONT },
    grid,
    xAxis,
    yAxis,
    series,
    graphic,
  };
}

export default function App() {
  const ref = useRef<HTMLDivElement>(null);
  useEffect(() => {
    if (!ref.current) return;
    const chart = echarts.init(ref.current, undefined, { renderer: 'svg' });
    chart.setOption(buildOption() as any);
    return () => chart.dispose();
  }, []);
  return <div ref={ref} style={{ position: 'fixed', left: 0, top: 0, width: 872, height: 872, background: '#fff' }} />;
}
